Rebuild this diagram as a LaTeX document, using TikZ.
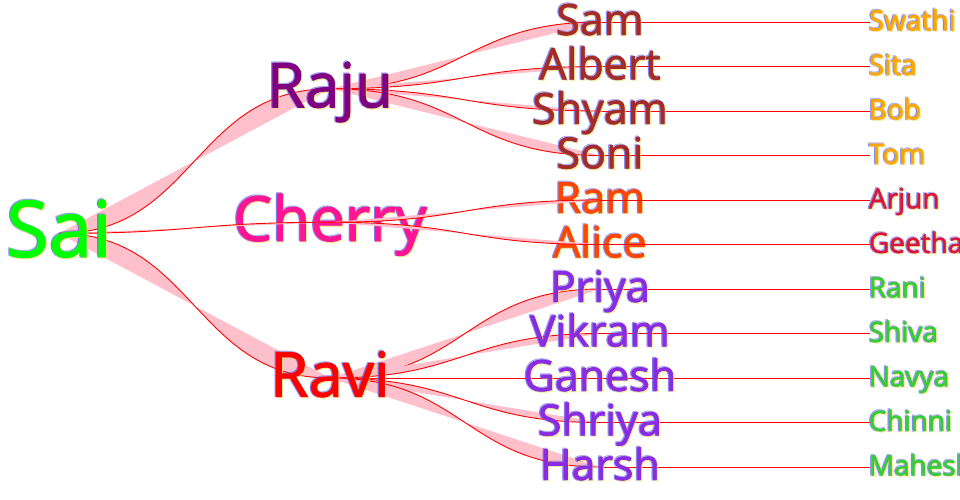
\documentclass[tikz,border=0pt]{standalone}
\usepackage{fontspec}
\setmainfont{Open Sans}
\newfontfamily\labfont{Open Sans}[FakeBold=1.5]
\usetikzlibrary{calc}
\definecolor{cLime}{HTML}{00FF00}
\definecolor{cPurple}{HTML}{800080}
\definecolor{cDeepPink}{HTML}{FF1493}
\definecolor{cRed}{HTML}{FF0000}
\definecolor{cBrown}{HTML}{A52A2A}
\definecolor{cOrangeRed}{HTML}{FF4500}
\definecolor{cBlueViolet}{HTML}{8A2BE2}
\definecolor{cOrange}{HTML}{FFA500}
\definecolor{cCrimson}{HTML}{DC143C}
\definecolor{cLimeGreen}{HTML}{32CD32}
\definecolor{cPink}{HTML}{FFC0CB}
\definecolor{cShBlue}{HTML}{5A5AE6}
\definecolor{cShYellow}{HTML}{F2E36A}
\tikzset{
  lab/.style={inner sep=0pt, outer sep=0pt},
  shA/.style={lab, text=cShBlue, opacity=0.4},
  shB/.style={lab, text=cShYellow, opacity=0.55},
  linkfill/.style={fill=cPink},
  linkline/.style={draw=cRed, line width=0.9pt},
}
\newcommand\treelink[2]{%
  \fill[linkfill] let \p1=(#1), \p2=(#2) in (\p1) .. controls ({(\x1+\x2)/2},\y1) and ({(\x1+\x2)/2},\y2) .. (\p2) -- cycle;
  \draw[linkline] let \p1=(#1), \p2=(#2) in (\p1) .. controls ({(\x1+\x2)/2},\y1) and ({(\x1+\x2)/2},\y2) .. (\p2);
}
\newcommand\treelabel[7]{% name, anchor, x, y, size, colour, text
  \node[shA, anchor=#2, font=\labfont\fontsize{#5}{#5}\selectfont] (#1-sa) at ({#3-1.2},{#4+0.3*#5-1.2}) {#7};
  \node[shA, anchor=#2, font=\labfont\fontsize{#5}{#5}\selectfont] (#1-sc) at ({#3-1.2},{#4+0.3*#5+0.4}) {#7};
  \node[shB, anchor=#2, font=\labfont\fontsize{#5}{#5}\selectfont] (#1-sb) at ({#3+1.2},{#4+0.3*#5+1.2}) {#7};
  \node[lab, text=#6, anchor=#2, font=\labfont\fontsize{#5}{#5}\selectfont] (#1-t) at ({#3},{#4+0.3*#5}) {#7};
}
\begin{document}
\begin{tikzpicture}[x=1pt,y=-1pt]
\fill[white] (0,0) rectangle (960,500);
\useasboundingbox (0,0) rectangle (960,500);
% node points
\coordinate (sai) at (59,233.4);
\coordinate (raju) at (330,88.75);
\coordinate (cherry) at (330,222.25);
\coordinate (ravi) at (330,378);
\coordinate (sam) at (600,22);
\coordinate (albert) at (600,66.5);
\coordinate (shyam) at (600,111);
\coordinate (soni) at (600,155.5);
\coordinate (ram) at (600,200);
\coordinate (alice) at (600,244.5);
\coordinate (priya) at (600,289);
\coordinate (vikram) at (600,333.5);
\coordinate (ganesh) at (600,378);
\coordinate (shriya) at (600,422.5);
\coordinate (harsh) at (600,467);
\coordinate (swathi) at (870,22);
\coordinate (sita) at (870,66.5);
\coordinate (bob) at (870,111);
\coordinate (tom) at (870,155.5);
\coordinate (arjun) at (870,200);
\coordinate (geetha) at (870,244.5);
\coordinate (rani) at (870,289);
\coordinate (shiva) at (870,333.5);
\coordinate (navya) at (870,378);
\coordinate (chinni) at (870,422.5);
\coordinate (mahesh) at (870,467);
% links under the labels
\treelink{sai}{raju}
\treelink{sai}{ravi}
\treelink{raju}{sam}
\treelink{raju}{albert}
\treelink{raju}{shyam}
\treelink{raju}{soni}
\treelink{ravi}{priya}
\treelink{ravi}{vikram}
\treelink{ravi}{ganesh}
\treelink{ravi}{shriya}
\treelink{ravi}{harsh}
\treelink{sam}{swathi}
\treelink{albert}{sita}
\treelink{shyam}{bob}
\treelink{soni}{tom}
\treelink{priya}{rani}
\treelink{vikram}{shiva}
\treelink{ganesh}{navya}
\treelink{shriya}{chinni}
\treelink{harsh}{mahesh}
% labels
\treelabel{raju}{base}{330}{88.75}{62}{cPurple}{Raju}
\treelabel{cherry}{base}{330}{222.25}{62}{cDeepPink}{Cherry}
\treelabel{ravi}{base}{330}{378}{62}{cRed}{Ravi}
\treelabel{sam}{base}{600}{22}{43}{cBrown}{Sam}
\treelabel{albert}{base}{600}{66.5}{43}{cBrown}{Albert}
\treelabel{shyam}{base}{600}{111}{43}{cBrown}{Shyam}
\treelabel{soni}{base}{600}{155.5}{43}{cBrown}{Soni}
\treelabel{ram}{base}{600}{200}{43}{cOrangeRed}{Ram}
\treelabel{alice}{base}{600}{244.5}{43}{cOrangeRed}{Alice}
\treelabel{priya}{base}{600}{289}{43}{cBlueViolet}{Priya}
\treelabel{vikram}{base}{600}{333.5}{43}{cBlueViolet}{Vikram}
\treelabel{ganesh}{base}{600}{378}{43}{cBlueViolet}{Ganesh}
\treelabel{shriya}{base}{600}{422.5}{43}{cBlueViolet}{Shriya}
\treelabel{harsh}{base}{600}{467}{43}{cBlueViolet}{Harsh}
\treelabel{swathi}{base west}{869}{22}{28}{cOrange}{Swathi}
\treelabel{sita}{base west}{869}{66.5}{28}{cOrange}{Sita}
\treelabel{bob}{base west}{869}{111}{28}{cOrange}{Bob}
\treelabel{tom}{base west}{869}{155.5}{28}{cOrange}{Tom}
\treelabel{arjun}{base west}{869}{200}{28}{cCrimson}{Arjun}
\treelabel{geetha}{base west}{869}{244.5}{28}{cCrimson}{Geetha}
\treelabel{rani}{base west}{869}{289}{28}{cLimeGreen}{Rani}
\treelabel{shiva}{base west}{869}{333.5}{28}{cLimeGreen}{Shiva}
\treelabel{navya}{base west}{869}{378}{28}{cLimeGreen}{Navya}
\treelabel{chinni}{base west}{869}{422.5}{28}{cLimeGreen}{Chinni}
\treelabel{mahesh}{base west}{869}{467}{28}{cLimeGreen}{Mahesh}
% links drawn over the labels
\treelink{sai}{cherry}
\treelink{cherry}{ram}
\treelink{cherry}{alice}
\treelink{ram}{arjun}
\treelink{alice}{geetha}
\treelabel{sai}{base}{59}{233.4}{78}{cLime}{Sai}
\end{tikzpicture}
\end{document}
